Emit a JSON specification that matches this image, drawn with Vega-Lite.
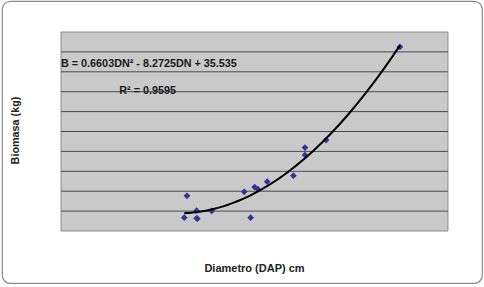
{
  "$schema": "https://vega.github.io/schema/vega-lite/v6.json",
  "width": 480,
  "height": 282,
  "autosize": "none",
  "padding": {"left": 2, "top": 1, "right": 2, "bottom": 4},
  "background": "white",
  "config": {
    "view": {"stroke": "#8a8a8a", "strokeWidth": 1.2, "cornerRadius": 8, "fill": "white"},
    "font": "Liberation Sans"
  },
  "datasets": {
    "pts": [
      {"D": 6.37, "B": 6.7},
      {"D": 6.51, "B": 17.7},
      {"D": 7.01, "B": 10.2},
      {"D": 7.01, "B": 6.4},
      {"D": 7.05, "B": 6.2},
      {"D": 7.79, "B": 10.1},
      {"D": 9.47, "B": 19.7},
      {"D": 9.80, "B": 6.7},
      {"D": 10.01, "B": 22.1},
      {"D": 10.17, "B": 21.1},
      {"D": 10.66, "B": 24.8},
      {"D": 12.01, "B": 27.8},
      {"D": 12.61, "B": 41.9},
      {"D": 12.61, "B": 38.2},
      {"D": 13.70, "B": 45.7},
      {"D": 17.52, "B": 92.5}
    ],
    "grid": [
      {"g": 10}, {"g": 20}, {"g": 30}, {"g": 40}, {"g": 50},
      {"g": 60}, {"g": 70}, {"g": 80}, {"g": 90}
    ],
    "one": [{}]
  },
  "layer": [
    {
      "data": {"name": "one"},
      "mark": {"type": "rect", "fill": "#c9c9c9", "stroke": "#8c8c8c", "strokeWidth": 1},
      "encoding": {
        "x": {"datum": 0, "type": "quantitative",
          "scale": {"domain": [-3.05, 21.76], "nice": false, "zero": false},
          "axis": {"title": "Diametro (DAP) cm", "labels": false, "ticks": false, "domain": false, "grid": false,
            "titleX": 252, "titleY": -15, "titleBaseline": "middle", "titleFontSize": 11, "titleFontWeight": "bold", "titleColor": "#222222", "titleFont": "Liberation Sans"}},
        "x2": {"datum": 20},
        "y": {"datum": 0, "type": "quantitative",
          "scale": {"domain": [-26.13, 115.58], "nice": false, "zero": false},
          "axis": {"title": "Biomasa (kg)", "labels": false, "ticks": false, "domain": false, "grid": false,
            "titleX": 13, "titleY": 129, "titleAngle": -90, "titleBaseline": "middle", "titleAlign": "center", "titleFontSize": 10.8, "titleFontWeight": "bold", "titleColor": "#222222", "titleFont": "Liberation Sans"}},
        "y2": {"datum": 100}
      }
    },
    {
      "data": {"name": "grid"},
      "mark": {"type": "rule", "color": "#4a4a4a", "strokeWidth": 1},
      "encoding": {
        "x": {"datum": 0, "type": "quantitative"},
        "x2": {"datum": 20},
        "y": {"field": "g", "type": "quantitative"}
      }
    },
    {
      "data": {"name": "pts"},
      "mark": {"type": "point", "shape": "diamond", "filled": true, "color": "#333399", "size": 45, "opacity": 1},
      "encoding": {
        "x": {"field": "D", "type": "quantitative"},
        "y": {"field": "B", "type": "quantitative"}
      }
    },
    {
      "data": {"name": "pts"},
      "transform": [{"regression": "B", "on": "D", "method": "poly", "order": 2}],
      "mark": {"type": "line", "color": "#000000", "strokeWidth": 2},
      "encoding": {
        "x": {"field": "D", "type": "quantitative"},
        "y": {"field": "B", "type": "quantitative"}
      }
    },
    {
      "data": {"name": "one"},
      "mark": {"type": "text", "text": "B = 0.6603DN² - 8.2725DN + 35.535", "align": "left", "baseline": "middle", "fontSize": 10.8, "fontWeight": "bold", "color": "#1a1a1a", "font": "Liberation Sans"},
      "encoding": {
        "x": {"datum": 0, "type": "quantitative"},
        "y": {"datum": 83.9, "type": "quantitative"}
      }
    },
    {
      "data": {"name": "one"},
      "mark": {"type": "text", "text": "R² = 0.9595", "align": "left", "baseline": "middle", "fontSize": 10.8, "fontWeight": "bold", "color": "#1a1a1a", "font": "Liberation Sans"},
      "encoding": {
        "x": {"datum": 3.01, "type": "quantitative"},
        "y": {"datum": 70.5, "type": "quantitative"}
      }
    }
  ]
}
